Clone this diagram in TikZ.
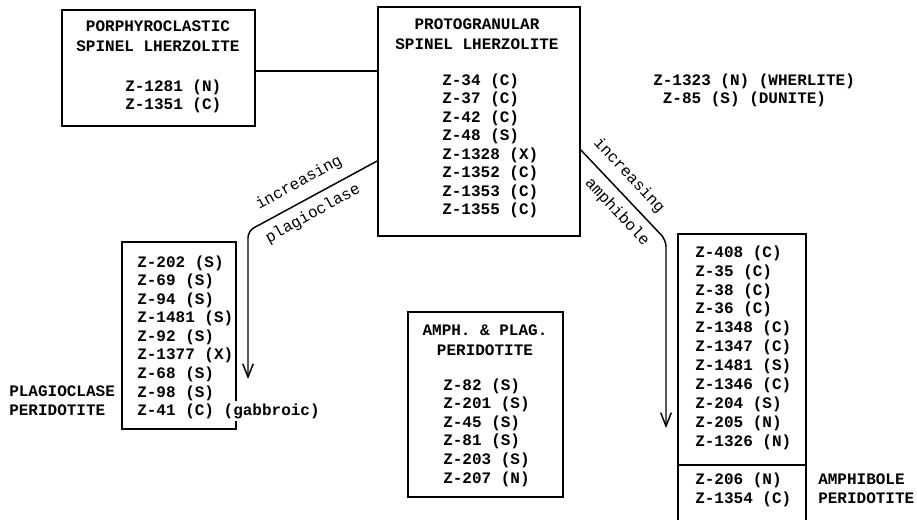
\documentclass[tikz,border=0pt]{standalone}
\usepackage{fontspec}
\setmainfont{Liberation Mono}
\usetikzlibrary{arrows.meta,fit}
\begin{document}
\begin{tikzpicture}[x=0.75pt,y=-0.75pt,
  box/.style={draw, line width=1.3pt, inner sep=0pt},
  lst/.style={font=\bfseries\fontsize{12pt}{13.9pt}\selectfont, inner sep=0pt, align=left, anchor=base west},
  ttl/.style={font=\bfseries\fontsize{12pt}{15pt}\selectfont, inner sep=0pt, align=center, anchor=base},
  lbl/.style={font=\fontsize{12pt}{14pt}\selectfont, inner sep=0pt},
  conn/.style={line width=1.1pt},
  arr/.style={line width=1.1pt, rounded corners=5pt, -{Straight Barb[length=10pt,width=8pt,line width=1.1pt]}}
]
\fill[white] (0,0) rectangle (917,520);
\useasboundingbox (0,0) rectangle (917,520);

% corner coordinates of boxes
\coordinate (porphA) at (62,10);   \coordinate (porphB) at (255,126);
\coordinate (protoA) at (378,7);   \coordinate (protoB) at (580,236);
\coordinate (plagA) at (122,242);  \coordinate (plagB) at (236,429);
\coordinate (apA) at (408,312);    \coordinate (apB) at (563,497);
\coordinate (amphA) at (678,234);  \coordinate (amphB) at (806,535);

% (anchor base = baseline of the last line)
% porphyroclastic
\node[box, fit=(porphA)(porphB)] (porph) {};
\node[ttl] (porphT) at (158,52) {PORPHYROCLASTIC\\SPINEL LHERZOLITE};
\node[lst] (porphL) at (125,110) {Z-1281 (N)\\Z-1351 (C)};

% protogranular
\node[box, fit=(protoA)(protoB)] (proto) {};
\node[ttl] (protoT) at (477,50) {PROTOGRANULAR\\SPINEL LHERZOLITE};
\node[lst] (protoL) at (442,215) {Z-34 (C)\\Z-37 (C)\\Z-42 (C)\\Z-48 (S)\\Z-1328 (X)\\Z-1352 (C)\\Z-1353 (C)\\Z-1355 (C)};

% isolated samples
\node[lst] (wher) at (653,104) {Z-1323 (N) (WHERLITE)\\\hspace*{0.6em}Z-85 (S) (DUNITE)};

% plagioclase peridotite
\node[box, fit=(plagA)(plagB)] (plag) {};
\node[lst] (plagL) at (137,397) {Z-202 (S)\\Z-69 (S)\\Z-94 (S)\\Z-1481 (S)\\Z-92 (S)\\Z-1377 (X)\\Z-68 (S)\\Z-98 (S)};
\node[lst, fill=white, inner ysep=2pt] (plagG) at (137,415) {Z-41 (C) (gabbroic)};
\node[lst] (plagT) at (9,415) {PLAGIOCLASE\\PERIDOTITE};

% amph & plag peridotite
\node[box, fit=(apA)(apB)] (ap) {};
\node[ttl] (apT) at (485,355) {AMPH. \& PLAG.\\PERIDOTITE};
\node[lst] (apL) at (443,483) {Z-82 (S)\\Z-201 (S)\\Z-45 (S)\\Z-81 (S)\\Z-203 (S)\\Z-207 (N)};

% amphibole peridotite
\node[box, fit=(amphA)(amphB)] (amph) {};
\coordinate (dv) at (0,465);
\draw[line width=1.3pt] (amph.west |- dv) -- (amph.east |- dv);
\node[lst, font=\bfseries\fontsize{12pt}{14.15pt}\selectfont] (amphL) at (695,446) {Z-408 (C)\\Z-35 (C)\\Z-38 (C)\\Z-36 (C)\\Z-1348 (C)\\Z-1347 (C)\\Z-1481 (S)\\Z-1346 (C)\\Z-204 (S)\\Z-205 (N)\\Z-1326 (N)};
\node[lst] (amphL2) at (695,503) {Z-206 (N)\\Z-1354 (C)};
\node[lst] (amphT) at (818,503) {AMPHIBOLE\\PERIDOTITE};

% connectors
\coordinate (pc) at (0,71);
\draw[conn] (porph.east |- pc) -- (proto.west |- pc);

\coordinate (l1) at (0,161);
\coordinate (lb) at (248,231);
\coordinate (ltip) at (248,379);
\draw[arr] (proto.west |- l1) -- (lb) -- (ltip);

\coordinate (r1) at (0,150);
\coordinate (rb) at (666,240);
\coordinate (rtip) at (666,428);
\draw[arr] (proto.east |- r1) -- (rb) -- (rtip);

% labels
\node[lbl, rotate=29] (li) at (299,183) {increasing};
\node[lbl, rotate=29] (lp) at (313,214) {plagioclase};
\node[lbl, rotate=-47] (ri) at (629,176) {increasing};
\node[lbl, rotate=-47] (ra) at (617,212) {amphibole};
\end{tikzpicture}
\end{document}
